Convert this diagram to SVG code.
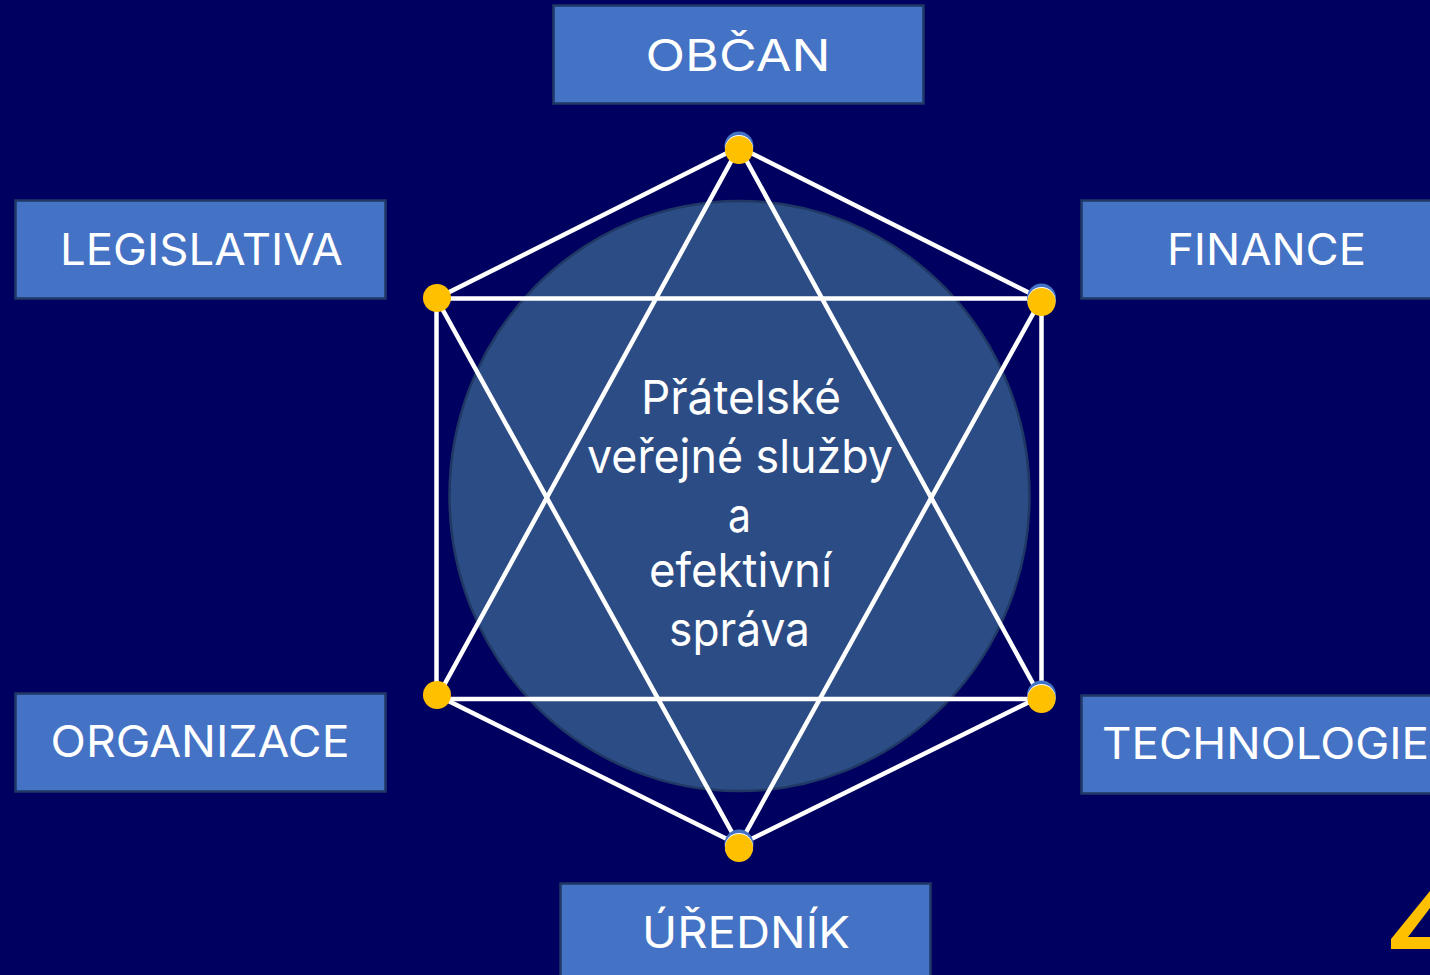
<svg xmlns="http://www.w3.org/2000/svg" width="1430" height="975" viewBox="0 0 1430 975">
<style>
.box{fill:#4472c4;stroke:#203864;stroke-width:2.5}
.lbl{font-family:Inter,"Open Sans",sans-serif;font-size:44px;fill:#fff;text-anchor:middle}
.ctr{font-family:Inter,"Open Sans",sans-serif;font-size:47px;font-weight:400;fill:#fff;text-anchor:middle}
.ln{fill:none;stroke:#fff;stroke-width:4.5;stroke-linejoin:miter}
.dot{fill:#ffc000}
.back{fill:#4472c4}
.hi{fill:#fff}
</style>
<rect width="1430" height="975" fill="#000060"/>
<g id="center"><ellipse cx="739.500" cy="496" rx="290" ry="295" fill="#2c4c85" stroke="#203864" stroke-width="2.500"/></g>
<g id="connectors">
<path class="ln" d="M739 147L1041.500 299V696L739 845L436.500 695V298.500Z"/>
<path class="ln" d="M739 147L1041.500 699H436.500Z"/>
<path class="ln" d="M436.500 298.500H1041.500L739 845Z"/>
</g>
<g id="center-label">
<text class="ctr" x="741" y="414" textLength="200" lengthAdjust="spacingAndGlyphs">Přátelské</text>
<text class="ctr" x="740" y="473" textLength="306" lengthAdjust="spacingAndGlyphs">veřejné služby</text>
<text class="ctr" x="739.500" y="532" textLength="23" lengthAdjust="spacingAndGlyphs">a</text>
<text class="ctr" x="740.500" y="587" textLength="183" lengthAdjust="spacingAndGlyphs">efektivní</text>
<text class="ctr" x="739.500" y="646" textLength="141" lengthAdjust="spacingAndGlyphs">správa</text>
</g>
<g id="obcan"><rect class="box" x="553.500" y="5.500" width="370" height="98"/><text class="lbl" x="738" y="70.500" textLength="185" lengthAdjust="spacingAndGlyphs">OBČAN</text></g>
<g id="legislativa"><rect class="box" x="15.500" y="200.500" width="370" height="98"/><text class="lbl" x="201.500" y="264.500" textLength="283" lengthAdjust="spacingAndGlyphs">LEGISLATIVA</text></g>
<g id="finance"><rect class="box" x="1081.500" y="200.500" width="370" height="98"/><text class="lbl" x="1266.500" y="264.500" textLength="199" lengthAdjust="spacingAndGlyphs">FINANCE</text></g>
<g id="organizace"><rect class="box" x="15.500" y="693.500" width="370" height="98"/><text class="lbl" x="200" y="756.500" textLength="299" lengthAdjust="spacingAndGlyphs">ORGANIZACE</text></g>
<g id="technologie"><rect class="box" x="1081.500" y="695.500" width="370" height="98"/><text class="lbl" x="1265.500" y="758.500" textLength="327" lengthAdjust="spacingAndGlyphs">TECHNOLOGIE</text></g>
<g id="urednik"><rect class="box" x="560.500" y="883.500" width="370" height="98"/><text class="lbl" x="746" y="947.500" textLength="208" lengthAdjust="spacingAndGlyphs">ÚŘEDNÍK</text></g>
<g id="dot-top"><circle class="back" cx="739" cy="146" r="14.500"/><circle class="hi" cx="739" cy="149" r="14"/><circle class="dot" cx="739" cy="150" r="14"/></g>
<g id="dot-right-upper"><circle class="back" cx="1041.500" cy="298" r="14.500"/><circle class="hi" cx="1041.500" cy="301" r="14"/><circle class="dot" cx="1041.500" cy="302" r="14"/></g>
<g id="dot-right-lower"><circle class="back" cx="1041.500" cy="695" r="14.500"/><circle class="hi" cx="1041.500" cy="698" r="14"/><circle class="dot" cx="1041.500" cy="699" r="14"/></g>
<g id="dot-bottom"><circle class="back" cx="739" cy="844" r="14.500"/><circle class="hi" cx="739" cy="847" r="14"/><circle class="dot" cx="739" cy="848" r="14"/></g>
<g id="dot-left-upper"><circle class="dot" cx="437" cy="298" r="14"/></g>
<g id="dot-left-lower"><circle class="dot" cx="437" cy="695" r="14"/></g>
<path d="M1391 949V939L1430 891V908L1408 937H1430V949Z" fill="#ffc000"/>
</svg>
